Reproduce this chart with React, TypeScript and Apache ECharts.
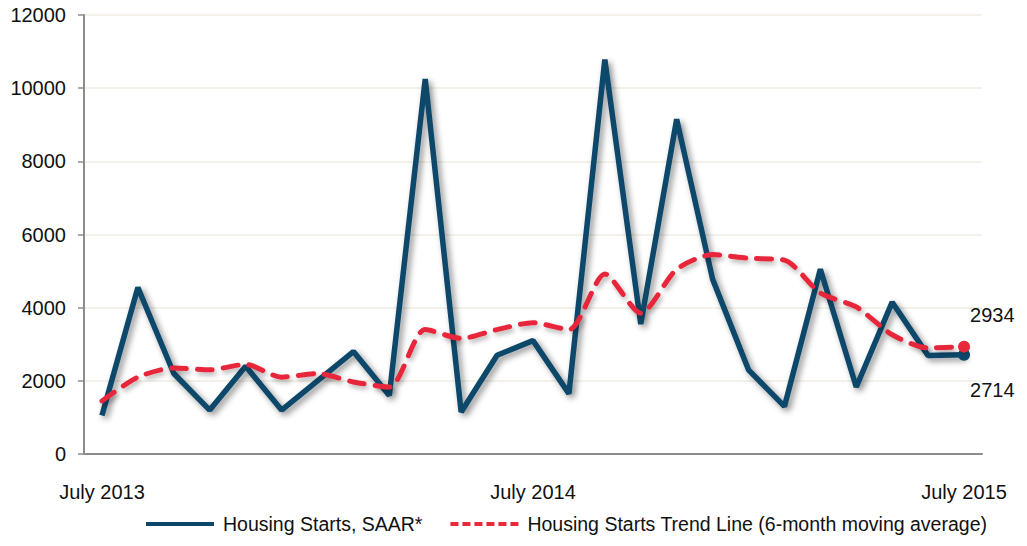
import React, { useEffect, useRef } from "react";
import * as echarts from "echarts";

const categories = [
  "July 2013", "August 2013", "September 2013", "October 2013", "November 2013", "December 2013",
  "January 2014", "February 2014", "March 2014", "April 2014", "May 2014", "June 2014",
  "July 2014", "August 2014", "September 2014", "October 2014", "November 2014", "December 2014",
  "January 2015", "February 2015", "March 2015", "April 2015", "May 2015", "June 2015",
  "July 2015",
];

const housingStarts = [
  1050, 4550, 2200, 1200, 2400, 1200, 2000, 2800, 1600, 10250, 1150, 2700,
  3100, 1650, 10780, 3550, 9150, 4780, 2300, 1300, 5050, 1830, 4150, 2690,
  2714,
];

const trendLine = [
  1450, 2100, 2350, 2300, 2450, 2100, 2200, 1970, 1830, 3400, 3160, 3400,
  3590, 3400, 4920, 3850, 5050, 5450, 5350, 5300, 4400, 4020, 3260, 2900,
  2934,
];

const seriesNames = [
  "Housing Starts, SAAR*",
  "Housing Starts Trend Line (6-month moving average)",
];

const yTicks = { min: 0, max: 12000, interval: 2000 };

const BLUE = "#0c4669";
const RED = "#e8283b";
const FONT = "'Liberation Sans', Arial, sans-serif";

const SOLID_ICON = "path://M0,0h68v4h-68z";
const DASH_ICON =
  "path://M0,0h8v4h-8zM12,0h8v4h-8zM24,0h8v4h-8zM36,0h8v4h-8zM48,0h8v4h-8zM60,0h8v4h-8z";

function withEndPoint(values: number[], color: string, offsetY: number) {
  return values.map((v, i) =>
    i === values.length - 1
      ? {
          value: v,
          symbol: "circle",
          symbolSize: 12,
          itemStyle: { color },
          label: {
            show: true,
            position: "right",
            distance: 0,
            offset: [0, offsetY],
            formatter: "{c}",
            color: "#111",
            fontSize: 20,
            fontFamily: FONT,
          },
        }
      : v
  );
}

export default function App() {
  const ref = useRef<HTMLDivElement>(null);

  useEffect(() => {
    if (!ref.current) return;
    const chart = echarts.init(ref.current, null, { renderer: "svg" });
    chart.setOption({
      animation: false,
      backgroundColor: "#ffffff",
      textStyle: { fontFamily: FONT },
      grid: { left: 84, right: 45, top: 15, bottom: 92, containLabel: false },
      legend: {
        left: 146,
        top: 514,
        padding: 0,
        itemGap: 28,
        itemWidth: 68,
        itemHeight: 4,
        textStyle: {
          fontSize: 19.5,
          color: "#111",
          fontFamily: FONT,
          padding: [0, 0, 0, 4],
        },
        data: [
          { name: seriesNames[0], icon: SOLID_ICON, itemStyle: { color: BLUE } },
          { name: seriesNames[1], icon: DASH_ICON, itemStyle: { color: RED } },
        ],
      },
      xAxis: {
        type: "category",
        data: categories,
        boundaryGap: true,
        axisLine: { show: true, lineStyle: { color: "#8c8c8c", width: 2 } },
        axisTick: { show: false },
        axisLabel: {
          interval: 11,
          margin: 28,
          color: "#111",
          fontSize: 20,
          fontFamily: FONT,
        },
        splitLine: { show: false },
      },
      yAxis: {
        type: "value",
        min: yTicks.min,
        max: yTicks.max,
        interval: yTicks.interval,
        axisLine: { show: true, lineStyle: { color: "#8c8c8c", width: 2 } },
        axisTick: { show: true, length: 6, lineStyle: { color: "#8c8c8c", width: 1.5 } },
        axisLabel: {
          margin: 18,
          color: "#111",
          fontSize: 20,
          fontFamily: FONT,
          formatter: (v: number) => String(v),
        },
        splitLine: { show: true, lineStyle: { color: "#efece2", width: 1.5 } },
      },
      series: [
        {
          name: seriesNames[0],
          type: "line",
          symbol: "none",
          data: withEndPoint(housingStarts, BLUE, 35),
          itemStyle: { color: BLUE },
          lineStyle: {
            color: BLUE,
            width: 5.5,
            shadowColor: "rgba(0,0,0,0.45)",
            shadowBlur: 6,
            shadowOffsetX: 3,
            shadowOffsetY: 3,
          },
          z: 2,
        },
        {
          name: seriesNames[1],
          type: "line",
          symbol: "none",
          smooth: 0.25,
          data: withEndPoint(trendLine, RED, -32),
          itemStyle: { color: RED },
          lineStyle: {
            color: RED,
            width: 5,
            type: [15, 11],
            cap: "round",
            shadowColor: "rgba(0,0,0,0.3)",
            shadowBlur: 5,
            shadowOffsetX: 2,
            shadowOffsetY: 3,
          },
          z: 3,
        },
      ],
    });
    return () => chart.dispose();
  }, []);

  return (
    <div
      ref={ref}
      style={{ position: "fixed", left: 0, top: 0, width: 1027, height: 546 }}
    />
  );
}
